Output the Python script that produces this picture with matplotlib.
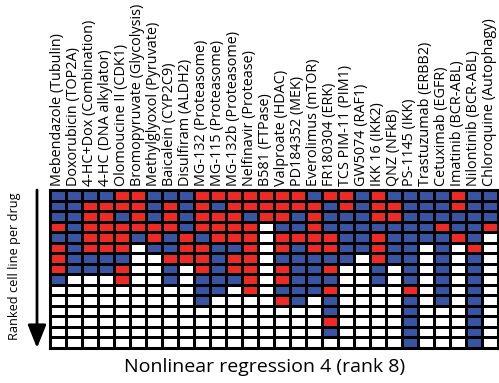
import matplotlib
matplotlib.use('Agg')
import matplotlib.pyplot as plt
from matplotlib.colors import ListedColormap
import numpy as np

plt.rcParams['font.family'] = ['Open Sans', 'DejaVu Sans']

# drug labels, left to right
drugs = [
    'Mebendazole (Tubulin)', 'Doxorubicin (TOP2A)', '4-HC+Dox (Combination)',
    '4-HC (DNA alkylator)', 'Olomoucine II (CDK1)', 'Bromopyruvate (Glycolysis)',
    'Methylglyoxol (Pyruvate)', 'Baicalein (CYP2C9)', 'Disulfiram (ALDH2)',
    'MG-132 (Proteasome)', 'MG-115 (Proteasome)', 'MG-132b (Proteasome)',
    'Nelfinavir (Protease)', 'B581 (FTPase)', 'Valproate (HDAC)',
    'PD184352 (MEK)', 'Everolimus (mTOR)', 'FR180304 (ERK)',
    'TCS PIM-11 (PIM1)', 'GW5074 (RAF1)', 'IKK 16 (IKK2)', 'QNZ (NFkB)',
    'PS-1145 (IKK)', 'Trastuzumab (ERBB2)', 'Cetuximab (EGFR)',
    'Imatinib (BCR-ABL)', 'Nilontinib (BCR-ABL)', 'Chloroquine (Autophagy)',
]

# one string per drug, top rank first: B = blue, R = red, W = white
ranks = [
    'BBBRBRRRBWWWWWW', 'BBBBBBBBWWWWWWW', 'BRRRRRBBWWWWWWW', 'BRRRRRBBWWWWWWW',
    'RRBRRRBRRWWWWWW', 'RRRRBWWWWWWWWWW', 'BBBRRBWWWWWWWWW', 'BRRRBBRBBWWWWWW',
    'BBBBRRRWWWWWWWW', 'RRRRBRRRBBBWWWW', 'RBRRRBBBBBWWWWW', 'RRRRRBRRBWWWWWW',
    'RRBRRRRRRRWWWWW', 'RRRWWWWWWWWWWWW', 'RRRBRRBRRBRWWWW', 'RRBBRBBBBBBWWWW',
    'BRRRRRBBBBWWWWW', 'RBBBRRBRBRBBRBW', 'RRBBBBBWWWWWWWW', 'BBBBBBWWWWWWWWW',
    'RRRBRRRBBWWWWWW', 'BRRBBBBWWWWWWWW', 'BBBBBBBBBRBBBBB', 'BBBBBWWWWWWWWWW',
    'BBBRBBBBBBBWWWW', 'RRBBRWWWWWWWWWW', 'BBBBBRBBBBBBBBB', 'BBBRWWWWWWWWWWW',
]

title = 'Nonlinear regression 4 (rank 8)'
ylabel = 'Ranked cell line per drug'

code = {'W': 0, 'B': 1, 'R': 2}
grid = np.array([[code[c] for c in col] for col in ranks]).T
n_rows, n_cols = grid.shape

W, H = 499, 383
fig = plt.figure(figsize=(W / 100, H / 100), dpi=100)
ax = fig.add_axes([49.5 / W, 1 - 348 / H, 448 / W, 158 / H])

cmap = ListedColormap(['#ffffff', '#3a54a4', '#ee2a26'])
ax.pcolormesh(grid, cmap=cmap, vmin=0, vmax=2, edgecolors='black', linewidth=1.9)
ax.set_xlim(0, n_cols)
ax.set_ylim(n_rows, 0)
for s in ax.spines.values():
    s.set_linewidth(2.2)

ax.xaxis.tick_top()
ax.set_xticks(np.arange(n_cols) + 0.5)
ax.set_xticklabels(drugs, rotation=90, fontsize=10.4, va='bottom', ha='center')
ax.tick_params(axis='x', length=0, pad=3)
ax.set_yticks([])

# rank arrow and its label
fig.text(15 / W, 1 - 266 / H, ylabel, rotation=90, ha='center', va='center', fontsize=9.2)
ax.annotate('', xy=(37 / W, 1 - 348 / H), xytext=(37 / W, 1 - 190 / H),
            xycoords='figure fraction', textcoords='figure fraction',
            arrowprops=dict(arrowstyle='-|>,head_width=0.4,head_length=1.0',
                            lw=2.0, color='black', mutation_scale=14,
                            shrinkA=0, shrinkB=0))

fig.text(265 / W, 1 - 367 / H, title, ha='center', va='center', fontsize=14)

fig.savefig('out.png', dpi=100)
